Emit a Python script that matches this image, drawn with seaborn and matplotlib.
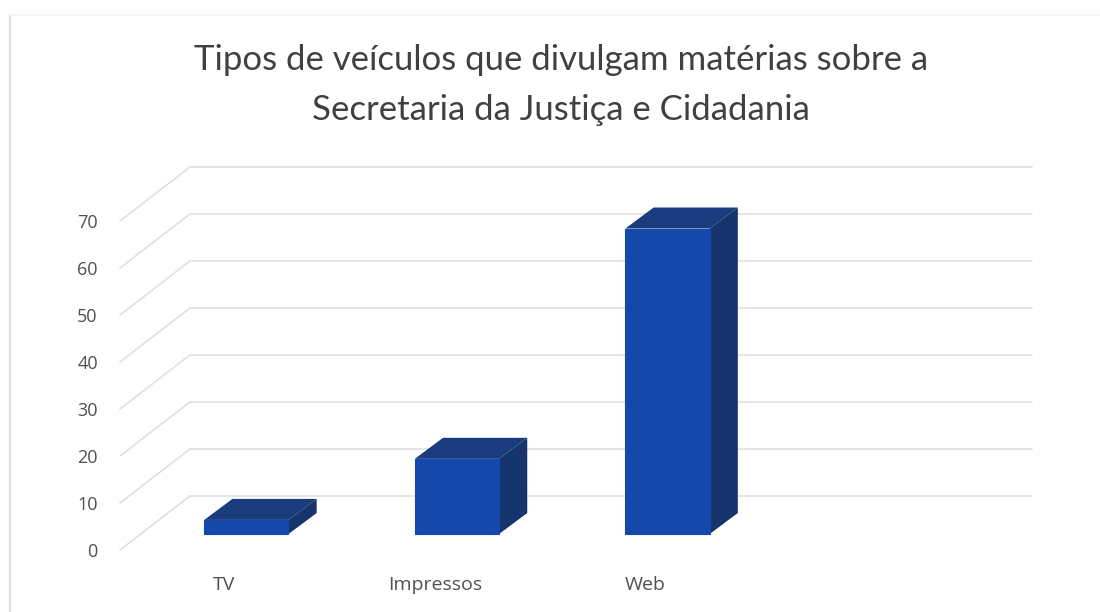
import seaborn as sns
import matplotlib.pyplot as plt
import pandas as pd
from matplotlib.lines import Line2D
from matplotlib.patches import Polygon

# Values
categories = ['TV', 'Impressos', 'Web']
values = [3, 16, 65]
tick_values = [0, 10, 20, 30, 40, 50, 60, 70]

df = pd.DataFrame({'Tipo': categories, 'Total': values})

sns.set_theme(style='white')
plt.rcParams['font.family'] = ['Lato', 'DejaVu Sans']

fig = plt.figure(figsize=(11, 6.12), dpi=100)
ax = fig.add_axes([120 / 1100, 62 / 612, 912 / 1100, 384 / 612])

# Front faces of the bars
sns.barplot(x='Tipo', y='Total', data=df, color='#1449ab', width=0.4, saturation=1,
            linewidth=0.8, edgecolor='#1449ab', ax=ax)

# Pseudo 3D: the depth of a bar and the shift of the floor and back wall
depth_x, depth_y = 0.134, 4.47
front_x, front_y = -0.6, -3.4
back_x, back_y = -0.268, 8.085
right_x = 3.731

# Top and side of each bar, built from the bar that seaborn drew
for bar in ax.patches[:len(categories)]:
    x0, x1 = bar.get_x(), bar.get_x() + bar.get_width()
    h = bar.get_height()
    bar.set_zorder(4)
    ax.add_patch(Polygon([(x0, h), (x1, h), (x1 + depth_x, h + depth_y), (x0 + depth_x, h + depth_y)],
                         color='#1a3c7e', lw=0, zorder=3, clip_on=False))
    ax.add_patch(Polygon([(x1, 0), (x1, h), (x1 + depth_x, h + depth_y), (x1 + depth_x, depth_y)],
                         color='#15356c', lw=0, zorder=3, clip_on=False))

# Grid lines on the side wall and the back wall
for v in tick_values:
    ax.plot([front_x, back_x, right_x], [v + front_y, v + back_y, v + back_y],
            color='#e0e0e0', lw=1.2, zorder=1, clip_on=False, solid_joinstyle='miter')

ax.set_xlim(front_x, right_x)
ax.set_ylim(front_y, 78.3)

ax.set_xticks([i - 0.104 for i in range(len(categories))])
ax.set_xticklabels(categories, family='Open Sans')
ax.set_yticks([v + front_y for v in tick_values])
ax.set_yticklabels(tick_values, family='Open Sans')
ax.tick_params(axis='x', length=0, pad=19, labelsize=14, labelcolor='#505050')
ax.tick_params(axis='y', length=0, pad=16, labelsize=13, labelcolor='#505050')
ax.set_xlabel('')
ax.set_ylabel('')
sns.despine(ax=ax, left=True, bottom=True)

# Title
fig.text(561 / 1100, 1 - 85 / 612, 'Tipos de veículos que divulgam matérias sobre a\nSecretaria da Justiça e Cidadania',
         ha='center', va='center', fontsize=25, color='#404040', linespacing=1.7)

# Faint frame of the chart
fig.add_artist(Line2D([10 / 1100, 10 / 1100], [0, 1 - 15 / 612], color='#e2e2e2', lw=1.6))
fig.add_artist(Line2D([10 / 1100, 1], [1 - 15 / 612, 1 - 15 / 612], color='#f4f4f4', lw=1.2))

plt.savefig('out.png', dpi=100)
